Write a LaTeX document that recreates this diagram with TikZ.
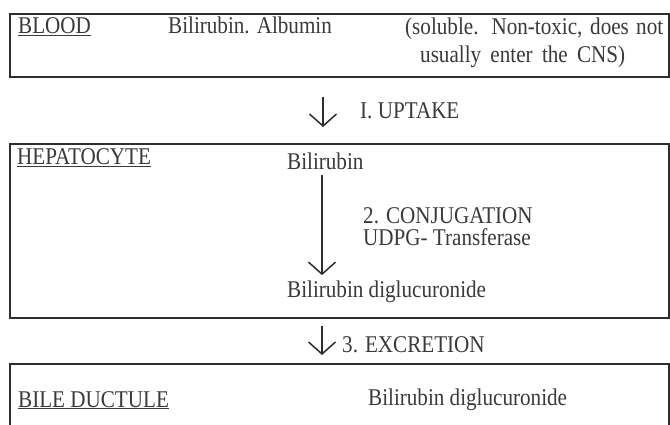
\documentclass[tikz,border=0pt]{standalone}
\usepackage{fontspec}
\setmainfont{Liberation Serif}[FakeStretch=0.88]
\usetikzlibrary{arrows.meta}
\definecolor{ink}{HTML}{3A3A3A}
\definecolor{rulec}{HTML}{2E2E2E}
\begin{document}
\begin{tikzpicture}[x=1pt,y=-1pt,
  txt/.style={anchor=base west, inner sep=0pt, text=ink, font=\fontsize{24}{28}\selectfont},
  box/.style={draw=rulec, line width=2pt, inner sep=0pt, anchor=north west},
  flow/.style={draw=rulec, line width=1.5pt, -{Straight Barb[length=12pt,width=27pt]}}]
\useasboundingbox (0,0) rectangle (670,425);
\fill[white] (0,0) rectangle (670,425);
% boxes
\node[box, minimum width=659pt, minimum height=63pt] (blood) at (9,13) {};
\node[box, minimum width=659pt, minimum height=174pt] (hep) at (9,143) {};
\node[box, minimum width=659pt, minimum height=100pt] (bile) at (9,363) {};
% blood texts
\node[txt] (tblood) at (18,34) {\underline{BLOOD}};
\node[txt] (alb) at (168,34) {Bilirubin. Albumin};
\node[txt] (sol1) at (405,35) {\makebox[258pt][s]{(soluble. Non-toxic, does not}};
\node[txt] (sol2) at (420,63) {\makebox[205pt][s]{usually enter the CNS)}};
% uptake
\coordinate (ax) at (323,0);
\coordinate (bx) at (322,0);
\draw[flow, shorten <=19pt, shorten >=16pt] (blood.south -| ax) -- (hep.north -| ax);
\node[txt] (up) at (360,119) {I. UPTAKE};
% hepatocyte
\node[txt] (thep) at (17,165) {\underline{HEPATOCYTE}};
\node[txt] (bili) at (287,170) {Bilirubin};
\node[txt] (conj) at (363,223) {2. CONJUGATION};
\node[txt] (udpg) at (363,245) {UDPG- Transferase};
\node[txt] (dig1) at (287,297) {Bilirubin diglucuronide};
\draw[flow, shorten <=5pt, shorten >=5pt] (bili.south -| bx) -- (dig1.north -| bx);
% excretion
\draw[flow, shorten <=7pt, shorten >=8pt] (hep.south -| bx) -- (bile.north -| bx);
\node[txt] (exc) at (342,352) {3. EXCRETION};
% bile ductule
\node[txt] (tbile) at (18,407) {\underline{BILE DUCTULE}};
\node[txt] (dig2) at (368,405) {Bilirubin diglucuronide};
\end{tikzpicture}
\end{document}
